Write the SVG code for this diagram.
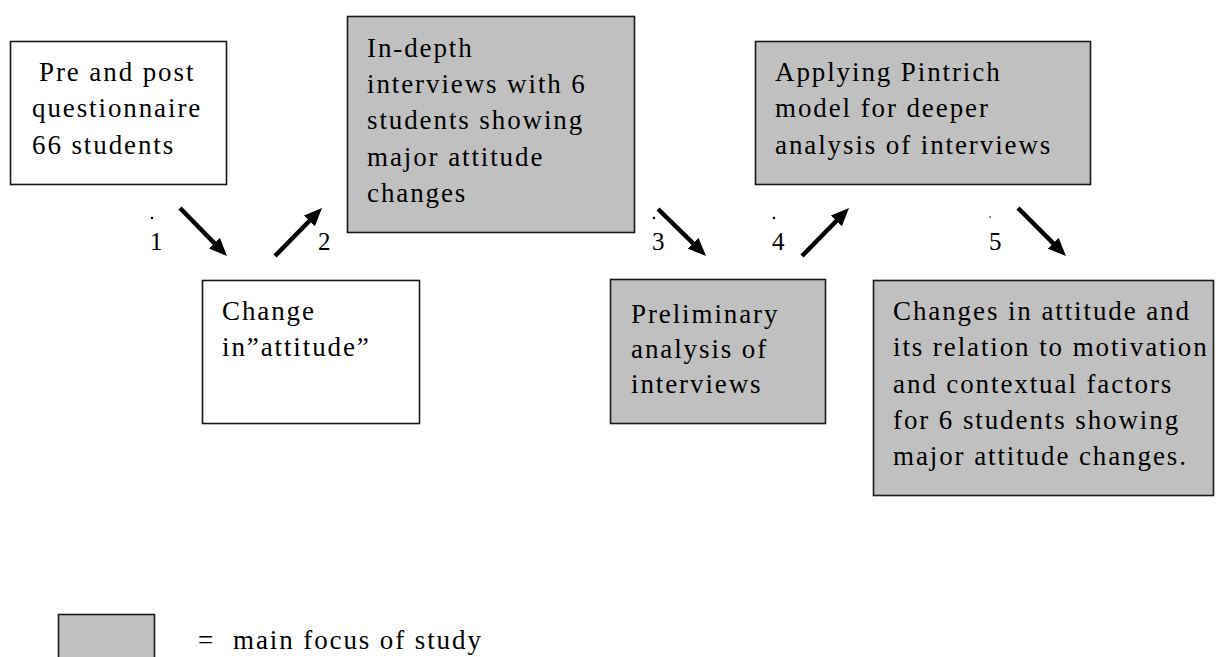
<svg xmlns="http://www.w3.org/2000/svg" width="1223" height="657" viewBox="0 0 1223 657">
<style>
.box{stroke:#1a1a1a;stroke-width:1.6}
.w{fill:#ffffff}
.g{fill:#c0c0c0}
.t{font-family:"Liberation Serif","Times New Roman",serif;font-size:27px;letter-spacing:1.9px;fill:#000}
.n{font-family:"Liberation Serif","Times New Roman",serif;font-size:25px;fill:#000}
.arr{stroke:#000;stroke-width:4.5;fill:none;marker-end:url(#ah)}
.dot{fill:#000}
</style>
<defs>
<marker id="ah" markerWidth="4" markerHeight="3.4" refX="2" refY="1.7" orient="auto" markerUnits="strokeWidth" viewBox="0 0 4 3.4">
<path d="M0,0 L4,1.7 L0,3.4 Z" fill="#000"/>
</marker>
</defs>
<rect width="1223" height="657" fill="#ffffff"/>
<g id="n1">
<rect class="box w" x="10.5" y="41.5" width="216" height="143"/>
<text class="t" x="39" y="81">Pre and post</text>
<text class="t" x="32" y="117">questionnaire</text>
<text class="t" x="32" y="154">66 students</text>
</g>
<g id="n2">
<rect class="box g" x="347.5" y="16.5" width="287" height="216"/>
<text class="t" x="367" y="57">In-depth</text>
<text class="t" x="367" y="93">interviews with 6</text>
<text class="t" x="367" y="129">students showing</text>
<text class="t" x="367" y="166">major attitude</text>
<text class="t" x="367" y="202">changes</text>
</g>
<g id="n3">
<rect class="box w" x="202.5" y="280.5" width="217" height="143"/>
<text class="t" x="222" y="320">Change</text>
<text class="t" x="222" y="356">in”attitude”</text>
</g>
<g id="n4">
<rect class="box g" x="610.5" y="279.5" width="215" height="144"/>
<text class="t" x="631" y="323">Preliminary</text>
<text class="t" x="631" y="358">analysis of</text>
<text class="t" x="631" y="393">interviews</text>
</g>
<g id="n5">
<rect class="box g" x="755.5" y="41.5" width="335" height="143"/>
<text class="t" x="775" y="81">Applying Pintrich</text>
<text class="t" x="775" y="117">model for deeper</text>
<text class="t" x="775" y="154">analysis of interviews</text>
</g>
<g id="n6">
<rect class="box g" x="873.5" y="280.5" width="340" height="215"/>
<text class="t" x="893" y="320">Changes in attitude and</text>
<text class="t" x="893" y="356">its relation to motivation</text>
<text class="t" x="893" y="393">and contextual factors</text>
<text class="t" x="893" y="429">for 6 students showing</text>
<text class="t" x="893" y="465">major attitude changes.</text>
</g>
<g id="connectors">
<line class="arr" x1="180" y1="208" x2="220.7" y2="249.6"/>
<line class="arr" x1="275" y1="256" x2="315.7" y2="214.5"/>
<line class="arr" x1="658" y1="209" x2="699.6" y2="249.6"/>
<line class="arr" x1="802" y1="256" x2="842.7" y2="214.5"/>
<line class="arr" x1="1018" y1="208" x2="1059.6" y2="249.6"/>
</g>
<g id="labels">
<text class="n" x="150" y="250">1</text>
<text class="n" x="318" y="250">2</text>
<text class="n" x="652" y="250">3</text>
<text class="n" x="772" y="250">4</text>
<text class="n" x="989" y="250">5</text>
<circle class="dot" cx="152" cy="218" r="1.2"/>
<circle class="dot" cx="654" cy="218" r="1.2"/>
<circle class="dot" cx="774" cy="218" r="1.2"/>
<circle class="dot" cx="990" cy="217" r="0.8"/>
</g>
<g id="legend">
<rect class="box g" x="58.5" y="614.5" width="96" height="50"/>
<text class="t" x="198" y="649">=</text>
<text class="t" x="233" y="649">main focus of study</text>
</g>
</svg>
